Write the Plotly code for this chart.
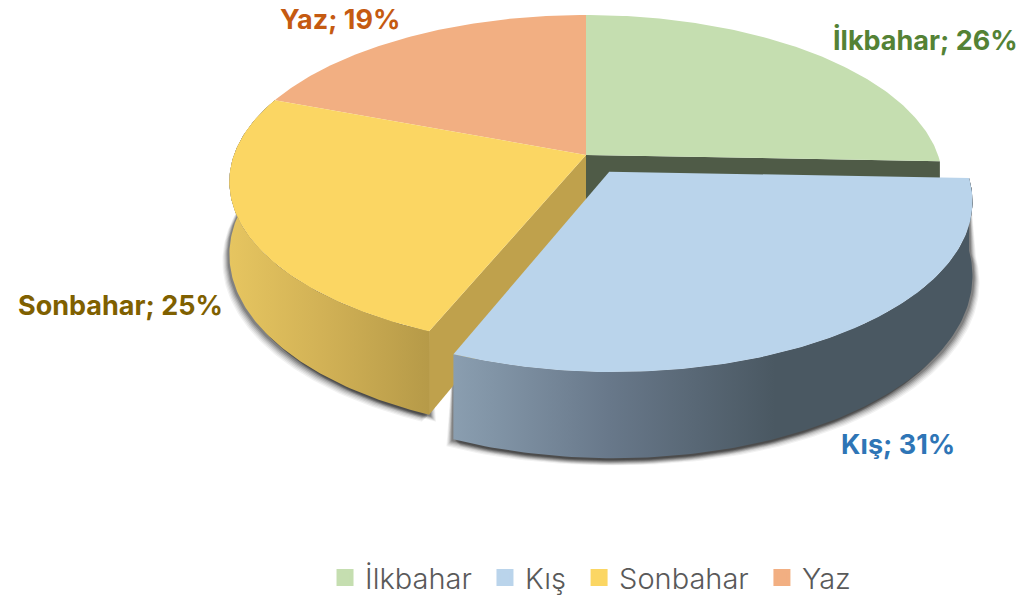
import numpy as np
import plotly.graph_objects as go

# Data
categories = ["İlkbahar", "Kış", "Sonbahar", "Yaz"]
values = [25.6, 30.6, 24.6, 19.2]

# Colours
top_colors = ["#C5DEB0", "#BAD4EB", "#FBD663", "#F2AF82"]
label_colors = ["#548235", "#2E75B6", "#7F6000", "#C55A11"]
explode = [0, 0.12, 0, 0]
label_pos = [(925, 40), (898, 444), (120, 305), (340, 19)]

# Projection of the tilted disc onto the plot's axes
CX, CY, A, B, K, H = 586, 155, 352, 162.4, 0.16, 71


def project(u, v, drop=0.0):
    d = 1 + K * v
    return CX + A * u / d, CY - B * v / d + drop * H / d


fracs = np.array(values) / sum(values)
edges = np.concatenate([[0], np.cumsum(fracs)]) * 2 * np.pi


def arc(i, n=120):
    t = np.linspace(edges[i], edges[i + 1], n)
    mid = (edges[i] + edges[i + 1]) / 2
    du, dv = explode[i] * np.sin(mid), explode[i] * np.cos(mid)
    return np.sin(t) + du, np.cos(t) + dv, du, dv


def poly(xs, ys, **kw):
    kw.setdefault("line", dict(width=0))
    kw.setdefault("showlegend", False)
    return go.Scatter(x=list(xs), y=list(ys), mode="lines", fill="toself",
                      hoverinfo="skip", **kw)


def top_face(i, color):
    u, v, du, dv = arc(i)
    x, y = project(u, v)
    ax, ay = project(np.array([du]), np.array([dv]))
    return poly(np.r_[ax, x, ax], np.r_[ay, y, ay], fillcolor=color)


def outer_wall(i, dx=0.0, dy=0.0, **kw):
    u, v, _, _ = arc(i)
    x0, y0 = project(u, v)
    x1, y1 = project(u, v, 1)
    return poly(np.r_[x0, x1[::-1] + dx, x0[0]], np.r_[y0, y1[::-1] + dy, y0[0]], **kw)


def inner_wall(i, end, color):
    u, v, du, dv = arc(i)
    k = 0 if end == "start" else -1
    uu = np.array([du, u[k]])
    vv = np.array([dv, v[k]])
    x0, y0 = project(uu, vv)
    x1, y1 = project(uu, vv, 1)
    return poly(np.r_[x0, x1[::-1], x0[0]], np.r_[y0, y1[::-1], y0[0]], fillcolor=color)


fig = go.Figure()

# Soft shadows under the outer walls
for i in (2, 1):
    for off, alpha in [(7, 0.06), (6, 0.08), (5, 0.10), (4, 0.14), (3, 0.18), (2, 0.24)]:
        fig.add_trace(outer_wall(i, dx=-off, dy=off, fillcolor=f"rgba(40,40,40,{alpha})"))
        fig.add_trace(outer_wall(i, dx=off, dy=off, fillcolor=f"rgba(40,40,40,{alpha})"))

# Back slices
fig.add_trace(top_face(3, top_colors[3]))
fig.add_trace(inner_wall(0, "end", "#4F5B47"))
fig.add_trace(top_face(0, top_colors[0]))

# Sonbahar
fig.add_trace(inner_wall(2, "start", "#BFA14C"))
fig.add_trace(outer_wall(2, fillgradient=dict(
    type="horizontal",
    colorscale=[[0, "#E6C560"], [0.5, "#D0B055"], [1, "#B69A48"]])))
fig.add_trace(top_face(2, top_colors[2]))

# Kış (pulled out)
fig.add_trace(outer_wall(1, fillgradient=dict(
    type="horizontal",
    colorscale=[[0, "#8A9EB0"], [0.3, "#68788A"], [0.62, "#4A5862"], [1, "#4A5862"]])))
fig.add_trace(top_face(1, top_colors[1]))

# Legend entries
for idx, (name, color) in enumerate(zip(categories, top_colors)):
    pad = "\u00a0" if idx < len(categories) - 1 else ""
    fig.add_trace(go.Scatter(x=[None], y=[None], mode="markers", name=name + pad,
                             marker=dict(symbol="square", size=13, color=color,
                                         line=dict(width=4, color=color))))

# Data labels
for name, val, color, (lx, ly) in zip(categories, fracs, label_colors, label_pos):
    fig.add_annotation(x=lx, y=ly, text=f"<b>{name}; {round(val * 100)}%</b>", showarrow=False,
                       font=dict(family="Inter", size=27, color=color))

fig.update_layout(
    width=1027, height=596,
    margin=dict(l=0, r=0, t=0, b=0, autoexpand=False),
    paper_bgcolor="white", plot_bgcolor="white",
    xaxis=dict(range=[0, 1027], visible=False, fixedrange=True),
    yaxis=dict(range=[596, 0], visible=False, fixedrange=True),
    legend=dict(orientation="h", x=0.575, xanchor="center", y=-0.012, yanchor="bottom",
                font=dict(family="Inter", size=29, color="#595959", weight=300),
                bgcolor="rgba(0,0,0,0)"),
)
fig.write_html("out.html", config=dict(displayModeBar=False),
               post_script="document.body.style.margin='0';")
